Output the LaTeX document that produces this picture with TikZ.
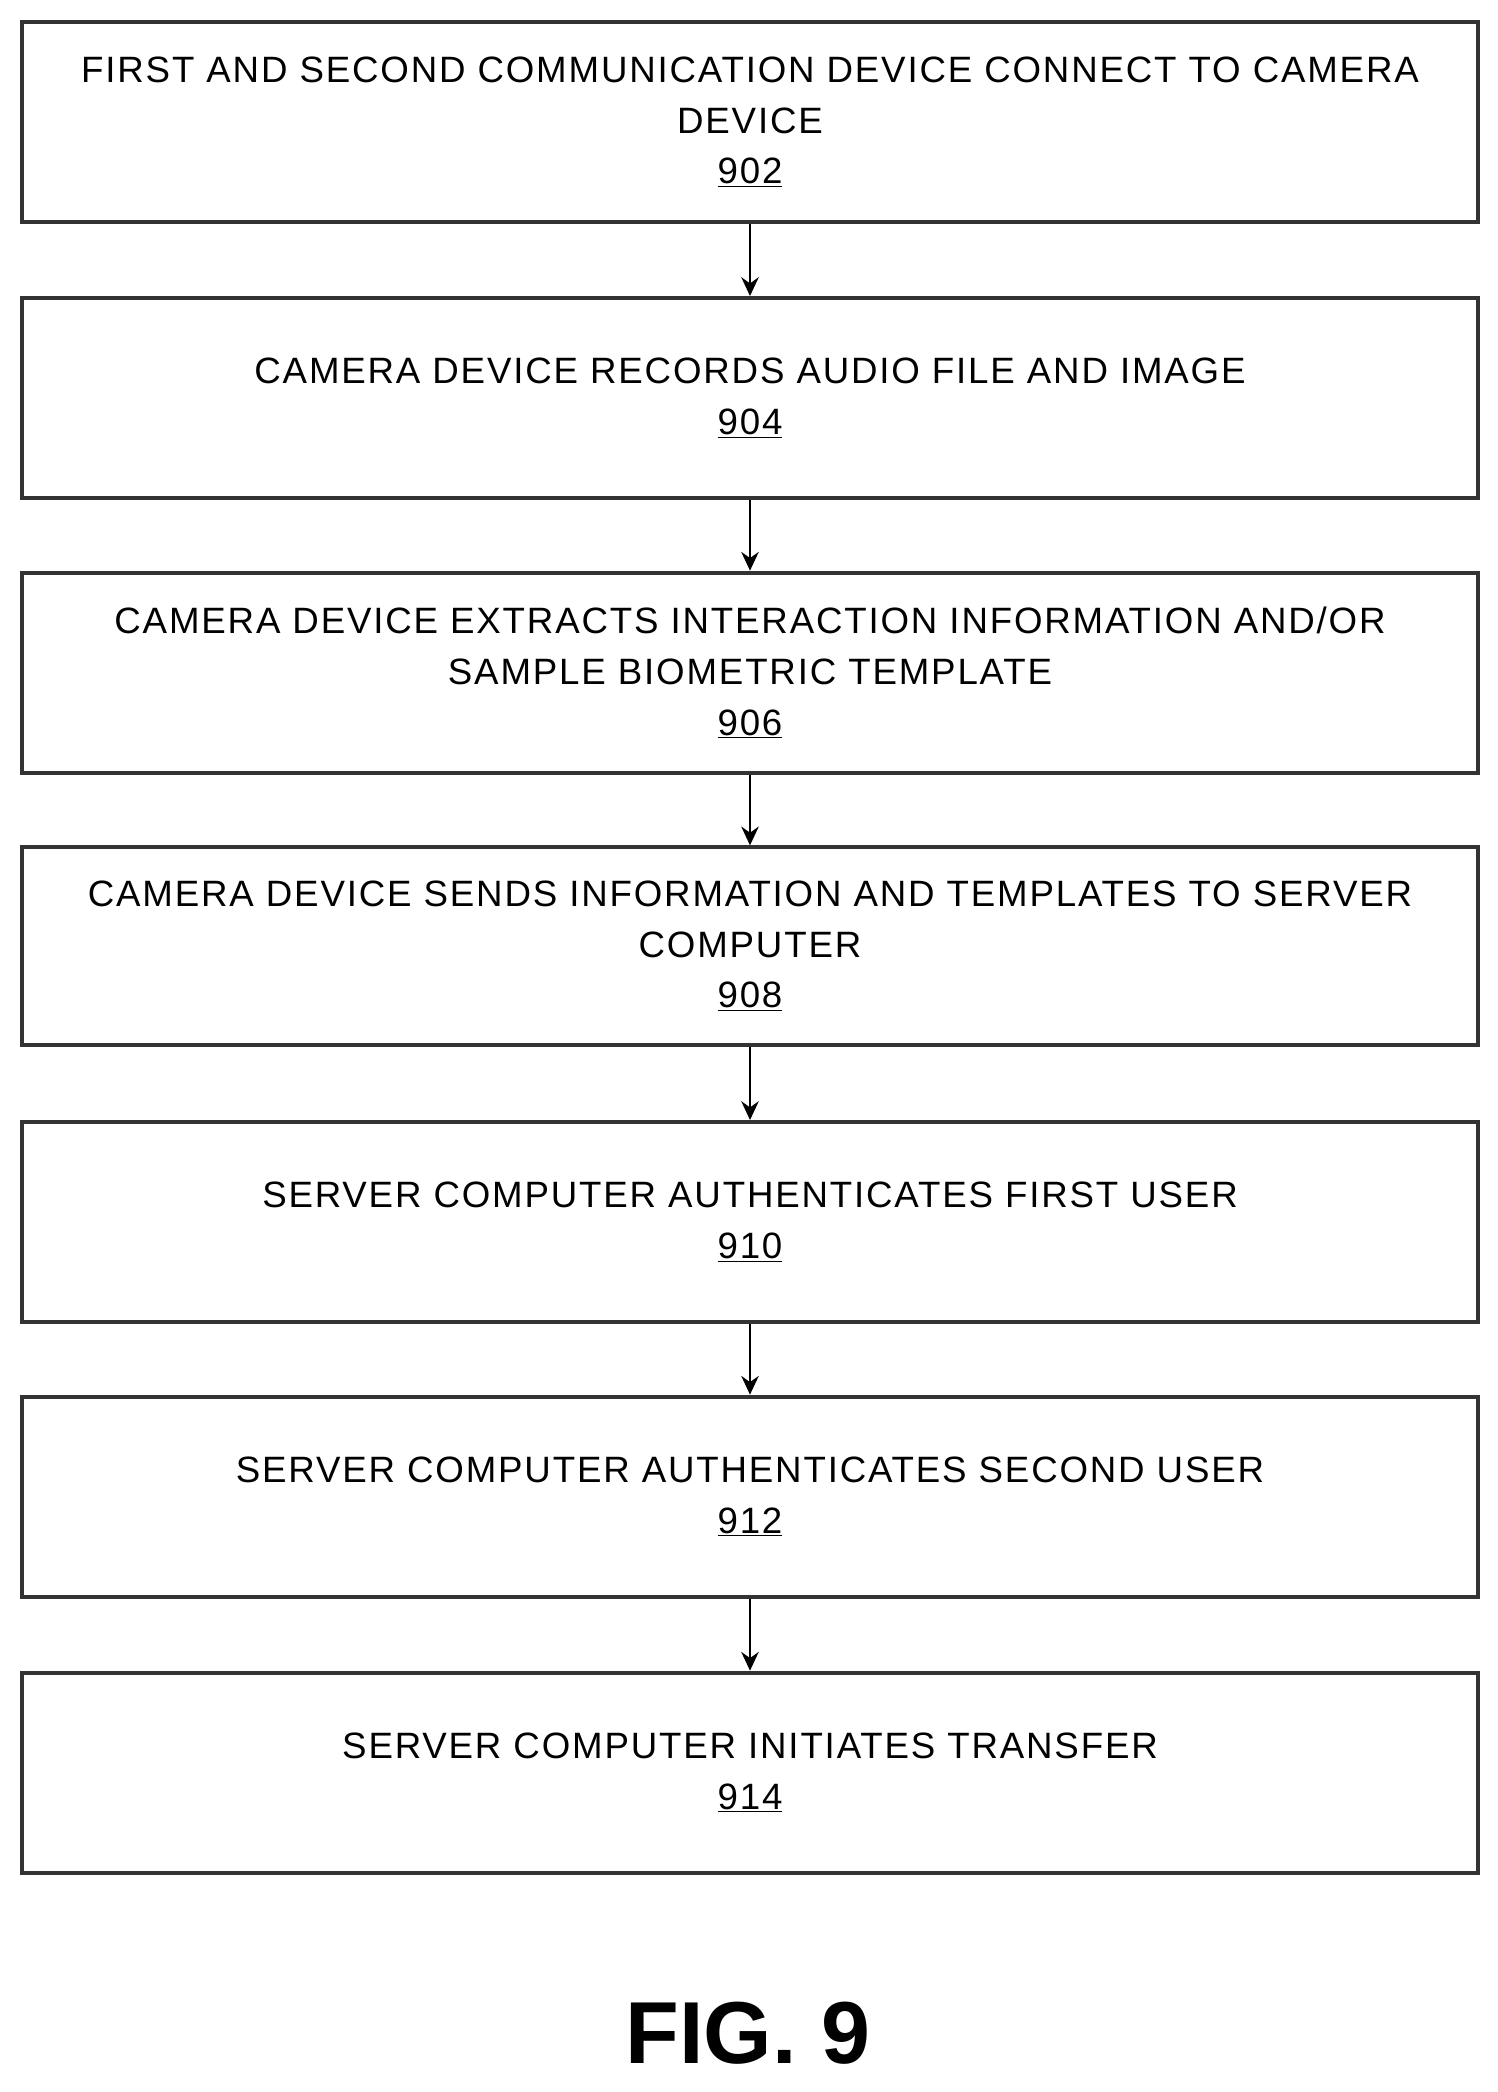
\documentclass[tikz,border=0pt]{standalone}
\usepackage{fontspec}
\setmainfont{Liberation Sans}
\newfontfamily\spaced[LetterSpace=5]{Liberation Sans}
\usetikzlibrary{arrows.meta}
\begin{document}
\begin{tikzpicture}[x=1pt,y=-1pt,
  box/.style={draw=black!80,line width=3pt,minimum width=1092pt,anchor=north west,inner sep=0pt,align=center,font=\spaced\fontsize{27.5}{38}\selectfont},
  arr/.style={line width=2.2pt,-{Stealth[length=14pt,width=13pt]}}]
\useasboundingbox (0,0) rectangle (1123,1569);
\newcommand{\bx}[5]{\node[box,minimum height=#3pt] (#1) at (15,#2) {#4\\\underline{#5}};}
\bx{a}{15}{150}{FIRST AND SECOND COMMUNICATION DEVICE CONNECT TO CAMERA\\DEVICE}{902}
\bx{b}{222}{150}{CAMERA DEVICE RECORDS AUDIO FILE AND IMAGE}{904}
\bx{c}{428}{150}{CAMERA DEVICE EXTRACTS INTERACTION INFORMATION AND/OR\\SAMPLE BIOMETRIC TEMPLATE}{906}
\bx{d}{634}{148}{CAMERA DEVICE SENDS INFORMATION AND TEMPLATES TO SERVER\\COMPUTER}{908}
\bx{e}{840}{150}{SERVER COMPUTER AUTHENTICATES FIRST USER}{910}
\bx{f}{1046}{150}{SERVER COMPUTER AUTHENTICATES SECOND USER}{912}
\bx{g}{1253}{150}{SERVER COMPUTER INITIATES TRANSFER}{914}
\foreach \p/\q in {a/b,b/c,c/d,d/e,e/f,f/g}{\draw[arr] (\p.south) -- (\q.north);}
\node[font=\fontsize{66}{70}\selectfont\bfseries] (fig) at (561,1525) {FIG. 9};
\end{tikzpicture}
\end{document}
